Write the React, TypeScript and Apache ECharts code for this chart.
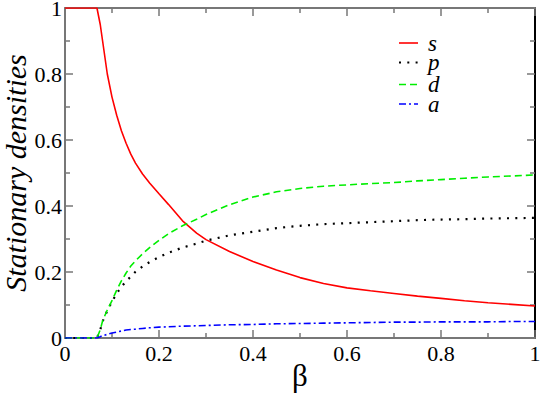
import React, { useEffect, useRef } from "react";
import * as echarts from "echarts";

const beta = [0, 0.068, 0.075, 0.08, 0.09, 0.1, 0.11, 0.12, 0.13, 0.14, 0.15, 0.165, 0.18, 0.2, 0.22, 0.25, 0.28, 0.3, 0.35, 0.4, 0.45, 0.5, 0.55, 0.6, 0.65, 0.7, 0.75, 0.8, 0.85, 0.9, 0.95, 1.0];
const sValues = [1, 1, 0.95, 0.9, 0.8, 0.73, 0.675, 0.628, 0.59, 0.557, 0.53, 0.497, 0.47, 0.437, 0.405, 0.355, 0.318, 0.298, 0.262, 0.232, 0.206, 0.183, 0.165, 0.152, 0.143, 0.135, 0.127, 0.12, 0.113, 0.107, 0.102, 0.097];
const pValues = [0, 0, 0.025, 0.05, 0.083, 0.11, 0.135, 0.155, 0.172, 0.186, 0.201, 0.217, 0.23, 0.245, 0.258, 0.274, 0.286, 0.295, 0.311, 0.322, 0.333, 0.34, 0.345, 0.348, 0.351, 0.354, 0.357, 0.359, 0.36, 0.362, 0.363, 0.364];
const dValues = [0, 0, 0.025, 0.052, 0.085, 0.113, 0.145, 0.173, 0.197, 0.218, 0.234, 0.255, 0.274, 0.296, 0.316, 0.34, 0.36, 0.374, 0.404, 0.427, 0.443, 0.453, 0.46, 0.464, 0.468, 0.471, 0.476, 0.48, 0.484, 0.488, 0.491, 0.494];
const aValues = [0, 0, 0.004, 0.007, 0.011, 0.015, 0.018, 0.021, 0.024, 0.026, 0.027, 0.029, 0.031, 0.033, 0.034, 0.036, 0.037, 0.038, 0.04, 0.041, 0.043, 0.044, 0.045, 0.046, 0.047, 0.048, 0.048, 0.049, 0.049, 0.049, 0.05, 0.05];
const seriesNames = ["s", "p", "d", "a"];
const tickLabels = ["0", "0.2", "0.4", "0.6", "0.8", "1"];

const FONT = "'Liberation Serif', 'DejaVu Serif', serif";

const COLORS = ["#ff0000", "#000000", "#00ee00", "#0000ff"];
const WIDTHS = [1.6, 2.2, 1.6, 1.6];
const DASHES: (number[] | null)[] = [null, [2, 6.3], [7, 4], [7, 3, 2, 3]];

export default function App() {
  const ref = useRef<HTMLDivElement>(null);
  useEffect(() => {
    const chart = echarts.init(ref.current!, null, { renderer: "svg" });
    const pair = (vals: number[]) => beta.map((b, i) => [b, vals[i]]);
    const fmt = (v: number) => tickLabels[Math.round(v / 0.2)] ?? "";
    const tickStyle = { color: "#777", width: 1.5 };
    const baseAxis = (lineColor: string) => ({
      type: "value",
      min: 0,
      max: 1,
      interval: 0.2,
      splitLine: { show: false },
      axisLine: { show: true, onZero: false, lineStyle: { color: lineColor, width: 2 } },
      axisTick: { show: true, inside: true, length: 8, lineStyle: tickStyle },
      minorTick: { show: true, splitNumber: 2, length: 5, lineStyle: tickStyle },
    });
    const allVals = [sValues, pValues, dValues, aValues];
    const legendTop = [43, 62.5, 84.5, 104];
    const legendGraphics: any[] = [];
    seriesNames.forEach((n, i) => {
      legendGraphics.push({
        type: "line",
        shape: { x1: 399, y1: legendTop[i], x2: 418, y2: legendTop[i] },
        style: { stroke: COLORS[i], lineWidth: WIDTHS[i], lineDash: DASHES[i] ?? undefined },
      });
      legendGraphics.push({
        type: "text",
        x: 428,
        y: legendTop[i],
        style: {
          text: n,
          fontFamily: FONT,
          fontStyle: "italic",
          fontSize: 23,
          lineHeight: 18,
          fill: "#000",
          verticalAlign: "middle",
          align: "left",
        },
      });
    });
    chart.setOption({
      animation: false,
      backgroundColor: "#fff",
      grid: { left: 65, right: 5, top: 8, bottom: 55, containLabel: false, outerBoundsMode: "none" },
      graphic: legendGraphics,
      xAxis: [
        {
          ...baseAxis("#777"),
          position: "bottom",
          axisLabel: { fontFamily: FONT, fontSize: 22, color: "#000", margin: 4, formatter: fmt },
          name: "β",
          nameLocation: "middle",
          nameGap: 22,
          nameMoveOverlap: false,
          nameTextStyle: { fontFamily: FONT, fontSize: 31, color: "#000", lineHeight: 31 },
        },
        {
          ...baseAxis("#777"),
          position: "top",
          axisLabel: { show: false },
        },
      ],
      yAxis: [
        {
          ...baseAxis("#777"),
          position: "left",
          axisLabel: { fontFamily: FONT, fontSize: 22, color: "#000", margin: 3, formatter: fmt },
          name: "Stationary densities",
          nameLocation: "middle",
          nameGap: 35,
          nameMoveOverlap: false,
          nameTextStyle: { fontFamily: FONT, fontSize: 30, fontStyle: "italic", color: "#000", lineHeight: 30 },
        },
        {
          ...baseAxis("#000"),
          position: "right",
          axisLabel: { show: false },
        },
      ],
      series: seriesNames.map((n, i) => ({
        name: n,
        type: "line",
        data: pair(allVals[i]),
        symbol: "none",
        smooth: false,
        color: COLORS[i],
        lineStyle: { color: COLORS[i], width: WIDTHS[i], type: DASHES[i] ?? "solid" },
      })),
    });
    return () => chart.dispose();
  }, []);
  return <div ref={ref} style={{ position: "absolute", left: 0, top: 0, width: 540, height: 393 }} />;
}
